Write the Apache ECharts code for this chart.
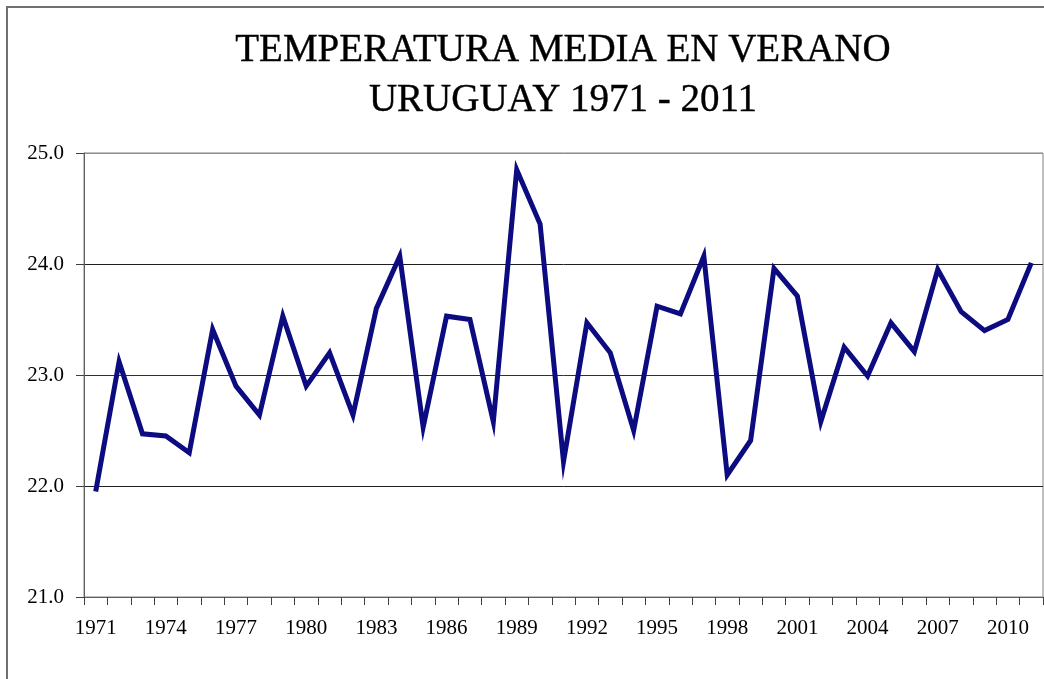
<!DOCTYPE html>
<html>
<head>
    <meta charset="utf-8">
    <title>Temperatura media en verano</title>
    <script src="https://cdn.jsdelivr.net/npm/echarts@6/dist/echarts.min.js"></script>
    <style>
        html, body { margin: 0; padding: 0; background: #fff; }
        #chart1 { width: 1044px; height: 679px; }
    </style>
</head>
<body>
<div id="chart1"></div>
<script type="text/javascript">
    // años 1971 - 2011
    var years = [];
    for (var y = 1971; y <= 2011; y++) years.push(String(y));

    // temperatura media de verano
    var tempMedia = [
        21.95, 23.12, 22.47, 22.45, 22.30, 23.41, 22.90, 22.64, 23.53, 22.90,
        23.20, 22.64, 23.60, 24.07, 22.53, 23.53, 23.50, 22.58, 24.85, 24.36,
        22.22, 23.47, 23.20, 22.50, 23.62, 23.55, 24.07, 22.10, 22.41, 23.96,
        23.71, 22.58, 23.25, 22.99, 23.47, 23.21, 23.95, 23.57, 23.40, 23.50,
        24.01
    ];

    var yMin = 21, yMax = 25, yStep = 1;

    var myChart1 = echarts.init(document.getElementById('chart1'));

    myChart1.setOption({
        backgroundColor: '#fff',
        animation: false,
        title: {
            text: 'TEMPERATURA MEDIA EN VERANO\nURUGUAY 1971 - 2011',
            left: 558,
            top: 21,
            textAlign: 'center',
            textStyle: {
                fontFamily: 'Liberation Serif',
                fontSize: 39,
                fontWeight: 'normal',
                color: '#000',
                textBorderColor: '#000',
                textBorderWidth: 0.4,
                lineHeight: 50
            }
        },
        graphic: [{
            // marco exterior del gráfico
            type: 'rect',
            shape: { x: 7, y: 7, width: 1060, height: 700 },
            style: { fill: 'none', stroke: '#707070', lineWidth: 2 },
            silent: true
        }],
        grid: {
            left: 84,
            right: 1,
            top: 153,
            bottom: 82,
            show: true,
            borderColor: '#808080',
            borderWidth: 1,
            containLabel: false
        },
        xAxis: {
            type: 'category',
            data: years,
            boundaryGap: true,
            axisLine: { lineStyle: { color: '#606060', width: 1 } },
            axisTick: { show: true, interval: 0, length: 8, lineStyle: { color: '#404040' } },
            axisLabel: {
                interval: 2,
                margin: 21,
                fontFamily: 'Liberation Serif',
                fontSize: 21,
                color: '#000'
            },
            splitLine: { show: false }
        },
        yAxis: {
            type: 'value',
            min: yMin,
            max: yMax,
            interval: yStep,
            axisLine: { show: true, lineStyle: { color: '#606060', width: 1 } },
            axisTick: { show: true, length: 8, lineStyle: { color: '#404040' } },
            axisLabel: {
                margin: 20,
                fontFamily: 'Liberation Serif',
                fontSize: 21,
                color: '#000',
                formatter: function (v) { return v.toFixed(1); }
            },
            splitLine: {
                show: true,
                lineStyle: { color: ['#808080', '#202020', '#303030', '#202020', '#909090'], width: 1 }
            }
        },
        series: [{
            name: 'Temperatura media',
            type: 'line',
            data: tempMedia,
            symbol: 'none',
            lineStyle: { color: '#0c0c80', width: 5, join: 'miter' },
            itemStyle: { color: '#0c0c80' }
        }]
    });
</script>
</body>
</html>
